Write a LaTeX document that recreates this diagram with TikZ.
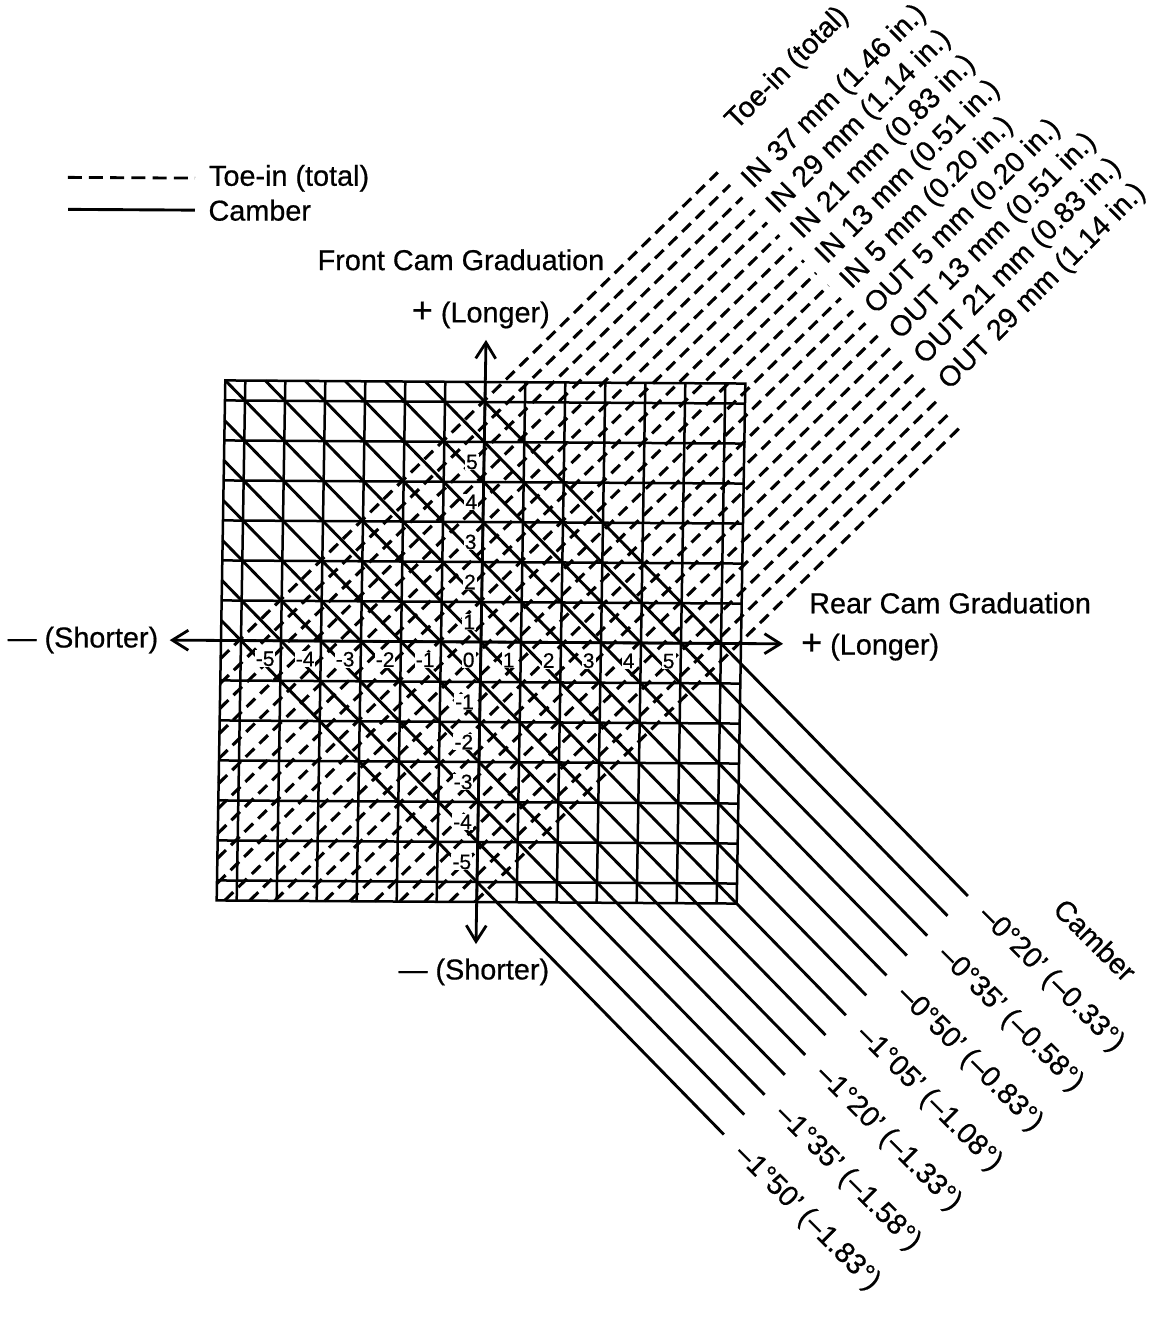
\documentclass[tikz,border=0pt]{standalone}
\usepackage{fontspec}
\setmainfont{Liberation Sans}[FakeBold=0.6]
\usetikzlibrary{arrows.meta}
\begin{document}
\begin{tikzpicture}[x=20pt,y=20pt,
  gridline/.style={line width=1.25pt},
  camberline/.style={line width=1.45pt},
  toeline/.style={line width=1.55pt, dash pattern=on 6pt off 3.5pt},
  legdash/.style={line width=1.4pt, dash pattern=on 7pt off 3.6pt},
  axisline/.style={line width=1.4pt, {Straight Barb[length=8pt,width=10pt]}-{Straight Barb[length=8pt,width=10pt]}},
  ticklbl/.style={font=\fontsize{10.5}{12}\selectfont, fill=white, inner sep=0.5pt, anchor=east},
  lbl/.style={font=\fontsize{14.4}{17}\selectfont, inner sep=0pt},
  toelbl/.style={lbl, rotate=45, anchor=base west},
  camlbl/.style={lbl, rotate=-45, anchor=west}]
\useasboundingbox (-12.025,-17.0) rectangle (17.175,16.05);
\begin{scope}[cm={1,-0.006,0.0166,1,(0,0)}]
  % grid
  \foreach \i in {-6,...,6} {
    \draw[gridline] (\i,-6.5) -- (\i,6.5);
    \draw[gridline] (-6.5,\i) -- (6.5,\i);
  }
  \draw[gridline] (-6.5,-6.5) rectangle (6.5,6.5);
  % camber (solid) lines
  \foreach \s in {-6,...,6} {
    \pgfmathsetmacro\ax{max(\s,0)-6.5}
    \pgfmathsetmacro\ay{min(\s,0)+6.5}
    \pgfmathsetmacro\bx{(\s+18.55)/2}
    \pgfmathsetmacro\by{(\s-18.55)/2}
    \draw[camberline] (\ax,\ay) -- (\bx,\by);
  }
  % toe-in (dashed) lines
  \foreach \k in {0,...,20} {
    \pgfmathsetmacro\d{6.05-0.625*\k}
    \pgfmathsetmacro\ax{-6.5+max(-\d,0)}
    \pgfmathsetmacro\ay{-6.5+max(\d,0)}
    \pgfmathsetmacro\bx{(17.5-\d)/2}
    \pgfmathsetmacro\by{(17.5+\d)/2}
    \draw[toeline] (\ax,\ay) -- (\bx,\by);
  }
  % tick labels
  \foreach \i in {-5,...,5} {
    \node[ticklbl] (h\i) at (\i-0.12,-0.45) {\i};
  }
  \foreach \j in {1,...,5} {
    \node[ticklbl] (vp\j) at (-0.12,\j-0.5) {\j};
    \node[ticklbl] (vm\j) at (-0.12,-\j-0.5) {-\j};
  }
  % axes
  \coordinate (vtop) at (0,7.55);
  \coordinate (vbot) at (0,-7.55);
  \coordinate (hleft) at (-7.78,0);
  \coordinate (hright) at (7.55,0);
  \draw[axisline] (vbot) -- (vtop);
  \draw[axisline] (hleft) -- (hright);
  % axis texts
  \node[lbl] (front) at (-0.66,9.55) {Front Cam Graduation};
  \node[lbl] (topl) at (-0.14,8.175) {{\fontsize{18}{18}\selectfont +} (Longer)};
  \node[lbl] (botl) at (-0.04,-8.25) {— (Shorter)};
  \node[lbl] (leftl) at (-9.95,-0.01) {— (Shorter)};
  \node[lbl] (rightl) at (9.73,-0.07) {{\fontsize{18}{18}\selectfont +} (Longer)};
  \node[lbl] (rear) at (11.71,1.045) {Rear Cam Graduation};
  % legend
  \coordinate (lt1) at (-10.52,11.55);
  \coordinate (lt2) at (-7.34,11.55);
  \coordinate (lc1) at (-10.50,10.75);
  \coordinate (lc2) at (-7.33,10.75);
  \draw[legdash] (lt1) -- (lt2);
  \draw[camberline] (lc1) -- (lc2);
  \node[lbl, anchor=west] (legtoe) at (-7.0,11.55) {Toe-in (total)};
  \node[lbl, anchor=west] (legcam) at (-7.0,10.75) {Camber};
  % toe-in labels
  \node[toelbl] (toehead) at (6.165,12.815) {Toe-in (total)};
  \foreach \k/\t in {2/IN 37 mm (1.46 in.), 4/IN 29 mm (1.14 in.), 6/IN 21 mm (0.83 in.),
                     8/IN 13 mm (0.51 in.), 10/IN 5 mm (0.20 in.), 12/OUT 5 mm (0.20 in.),
                     14/OUT 13 mm (0.51 in.), 16/OUT 21 mm (0.83 in.), 18/OUT 29 mm (1.14 in.)} {
    \pgfmathsetmacro\d{6.0-0.625*\k}
    \pgfmathsetmacro\px{(17.95-\d)/2}
    \pgfmathsetmacro\py{(17.95+\d)/2}
    \node[toelbl] (toe\k) at (\px,\py) {\t};
  }
  % camber labels
  \node[camlbl] (camhead) at (14.55,-6.45) {Camber};
  \foreach \s/\t in {6/–0°20' (–0.33°), 4/–0°35' (–0.58°), 2/–0°50' (–0.83°),
                     0/–1°05' (–1.08°), -2/–1°20' (–1.33°), -4/–1°35' (–1.58°), -6/–1°50' (–1.83°)} {
    \pgfmathsetmacro\px{(\s+19.3)/2}
    \pgfmathsetmacro\py{(\s-19.3)/2}
    \node[camlbl] (cam\s) at (\px,\py) {\t};
  }
\end{scope}
\end{tikzpicture}
\end{document}
